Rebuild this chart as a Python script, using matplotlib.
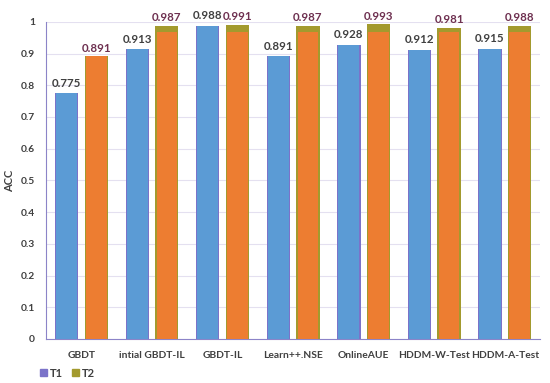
import matplotlib.pyplot as plt
import numpy as np
from matplotlib.patches import Patch

plt.rcParams['font.family'] = ['Lato', 'DejaVu Sans']

metodos = ['GBDT', 'intial GBDT-IL', 'GBDT-IL', 'Learn++.NSE', 'OnlineAUE',
           'HDDM-W-Test', 'HDDM-A-Test']
acc_t1 = [0.775, 0.913, 0.988, 0.891, 0.928, 0.912, 0.915]
acc_t2 = [0.891, 0.987, 0.991, 0.987, 0.993, 0.981, 0.988]
nombres_series = ['T1', 'T2']


def main():
    fig = plt.figure(figsize=(5.5, 3.83), dpi=100)
    ax = fig.add_axes([0.084, 0.115, 0.898, 0.828])

    x = np.arange(len(metodos))
    ancho = 0.33
    desp = 0.21

    # barras de fondo (colores de la leyenda)
    ax.bar(x - desp, acc_t1, ancho, color='#7b73c9', zorder=2)
    ax.bar(x + desp, acc_t2, ancho, color='#a39a2e', zorder=2)
    # barras superpuestas
    ax.bar(x - desp, acc_t1, ancho - 0.03, color='#5b9bd5', zorder=3)
    t2_naranja = np.minimum(acc_t2, 0.968)
    ax.bar(x + desp, t2_naranja, ancho - 0.04, color='#ed7d31', zorder=3)

    for i in range(len(metodos)):
        ax.text(x[i] - desp, acc_t1[i] + 0.014, f'{acc_t1[i]:.3f}', ha='center',
                va='bottom', fontsize=8.3, fontweight='bold', color='#404040')
        ax.text(x[i] + desp, acc_t2[i] + 0.008, f'{acc_t2[i]:.3f}', ha='center',
                va='bottom', fontsize=8.3, fontweight='bold', color='#6e3050')

    ax.set_ylim(0, 1)
    ax.set_xlim(-0.5, len(metodos) - 0.5)
    ax.set_yticks(np.arange(0, 1.01, 0.1))
    ax.set_yticklabels(['0', '0.1', '0.2', '0.3', '0.4', '0.5', '0.6', '0.7',
                        '0.8', '0.9', '1'])
    ax.set_xticks(x)
    ax.set_xticklabels(metodos)
    ax.tick_params(axis='both', length=0, labelsize=7.4, colors='#404040')
    ax.tick_params(axis='x', pad=9)
    ax.tick_params(axis='y', pad=8)
    for lab in ax.get_xticklabels() + ax.get_yticklabels():
        lab.set_fontweight('bold')
    ax.set_ylabel('ACC', fontsize=8, fontweight='bold', color='#404040')

    ax.grid(axis='y', color='#e4e0f0', linewidth=0.8, zorder=0)
    for lado in ['top', 'right']:
        ax.spines[lado].set_visible(False)
    ax.spines['left'].set_color('#8c84c8')
    ax.spines['bottom'].set_color('#8c84c8')

    handles = [Patch(color='#7b73c9'), Patch(color='#a39a2e')]
    leg = fig.legend(handles, nombres_series, loc='lower left',
                     bbox_to_anchor=(0.055, -0.015), ncol=2, frameon=False,
                     fontsize=8, handlelength=0.6, handleheight=0.6,
                     columnspacing=0.8, handletextpad=0.3)
    for t in leg.get_texts():
        t.set_color('#404040')
        t.set_fontweight('bold')

    plt.savefig('out.png', dpi=100)


if __name__ == "__main__":
    main()
